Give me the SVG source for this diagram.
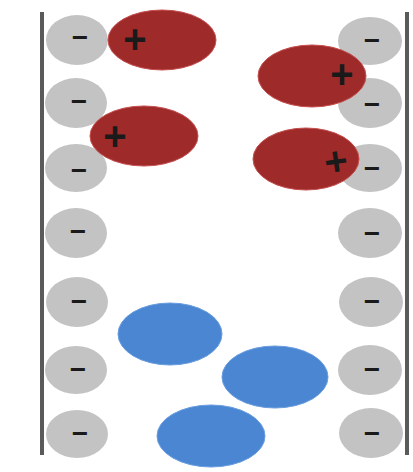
<svg xmlns="http://www.w3.org/2000/svg" width="413" height="472" viewBox="0 0 413 472">
<style>
.wall{stroke:#5a5a5a;stroke-width:4;fill:none}
.neg{fill:#c3c3c3}
.pos{fill:#9e2b2a;stroke:#c65050;stroke-width:1}
.blue{fill:#4a86d2;stroke:#6a9ee0;stroke-width:1}
.m{font-family:"Liberation Sans",Arial,sans-serif;font-weight:bold;font-size:28px;fill:#1a1a1a;text-anchor:middle}
.p{font-family:"Liberation Sans",Arial,sans-serif;font-weight:bold;font-size:40px;fill:#1a1a1a;text-anchor:middle}
</style>
<rect width="413" height="472" fill="#ffffff"/>
<g id="walls">
<line class="wall" x1="42" y1="12" x2="42" y2="455"/>
<line class="wall" x1="407" y1="12" x2="407" y2="455"/>
</g>
<g id="left-negatives">
<g id="ln1"><ellipse class="neg" cx="77" cy="40" rx="31" ry="25"/><text class="m" x="80" y="47">−</text></g>
<g id="ln2"><ellipse class="neg" cx="76" cy="103" rx="31" ry="25"/><text class="m" x="79" y="111">−</text></g>
<g id="ln3"><ellipse class="neg" cx="76" cy="168" rx="31" ry="24"/><text class="m" x="79" y="180">−</text></g>
<g id="ln4"><ellipse class="neg" cx="76" cy="233" rx="31" ry="25"/><text class="m" x="78" y="241">−</text></g>
<g id="ln5"><ellipse class="neg" cx="77" cy="302" rx="31" ry="25"/><text class="m" x="79" y="311">−</text></g>
<g id="ln6"><ellipse class="neg" cx="76" cy="370" rx="31" ry="24"/><text class="m" x="78" y="379">−</text></g>
<g id="ln7"><ellipse class="neg" cx="77" cy="434" rx="31" ry="24"/><text class="m" x="80" y="443">−</text></g>
</g>
<g id="right-negatives">
<g id="rn1"><ellipse class="neg" cx="370" cy="41" rx="32" ry="24"/><text class="m" x="372" y="50">−</text></g>
<g id="rn2"><ellipse class="neg" cx="370" cy="103" rx="32" ry="25"/><text class="m" x="372" y="114">−</text></g>
<g id="rn3"><ellipse class="neg" cx="370" cy="168" rx="32" ry="24"/><text class="m" x="372" y="178">−</text></g>
<g id="rn4"><ellipse class="neg" cx="370" cy="233" rx="32" ry="25"/><text class="m" x="372" y="243">−</text></g>
<g id="rn5"><ellipse class="neg" cx="371" cy="302" rx="32" ry="25"/><text class="m" x="372" y="311">−</text></g>
<g id="rn6"><ellipse class="neg" cx="370" cy="370" rx="32" ry="25"/><text class="m" x="372" y="379">−</text></g>
<g id="rn7"><ellipse class="neg" cx="371" cy="433" rx="32" ry="25"/><text class="m" x="372" y="443">−</text></g>
</g>
<g id="cation1"><ellipse class="pos" cx="162" cy="40" rx="54" ry="30"/><text class="p" x="135" y="53">+</text></g>
<g id="cation2"><ellipse class="pos" cx="144" cy="136" rx="54" ry="30"/><text class="p" x="115" y="150">+</text></g>
<g id="cation3"><ellipse class="pos" cx="312" cy="76" rx="54" ry="31"/><text class="p" x="342" y="88">+</text></g>
<g id="cation4"><ellipse class="pos" cx="306" cy="159" rx="53" ry="31"/><text class="p" x="336" y="175" transform="rotate(-8 336 161)">+</text></g>
<g id="particle1"><ellipse class="blue" cx="170" cy="334" rx="52" ry="31"/></g>
<g id="particle2"><ellipse class="blue" cx="275" cy="377" rx="53" ry="31"/></g>
<g id="particle3"><ellipse class="blue" cx="211" cy="436" rx="54" ry="31"/></g>
</svg>
